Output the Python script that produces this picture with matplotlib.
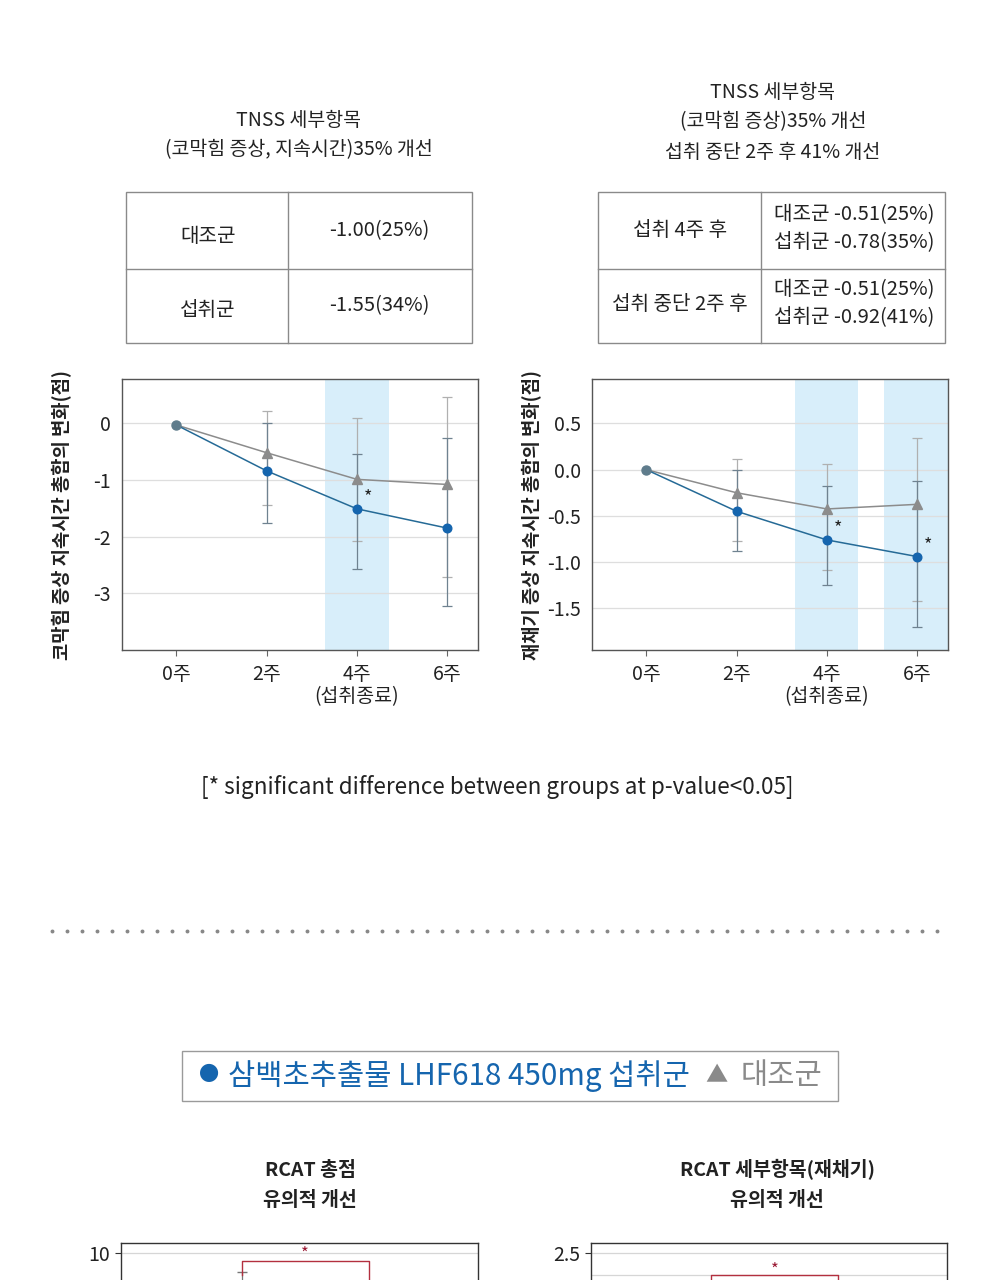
import numpy as np
import matplotlib.pyplot as plt

plt.rcParams['font.family'] = ['Noto Sans CJK KR', 'DejaVu Sans']
plt.rcParams['axes.unicode_minus'] = False

W, H = 1000, 1280

# ---- data ----
weeks = ['0주', '2주', '4주\n(섭취종료)', '6주']

# 코막힘 증상 지속시간 총합의 변화
nc_intake = [-0.03, -0.84, -1.51, -1.85]
nc_control = [-0.03, -0.52, -0.99, -1.08]
nc_intake_lo = [-0.03, -1.76, -2.57, -3.23]
nc_intake_hi = [-0.03, 0.00, -0.55, -0.26]
nc_control_lo = [-0.03, -1.45, -2.08, -2.71]
nc_control_hi = [-0.03, 0.22, 0.09, 0.47]
nc_sig = [False, False, True, False]

# 재채기 증상 지속시간 총합의 변화
sn_intake = [0.0, -0.45, -0.76, -0.94]
sn_control = [0.0, -0.25, -0.425, -0.375]
sn_intake_lo = [0.0, -0.885, -1.25, -1.70]
sn_intake_hi = [0.0, 0.00, -0.18, -0.12]
sn_control_lo = [0.0, -0.77, -1.09, -1.42]
sn_control_hi = [0.0, 0.115, 0.06, 0.345]
sn_sig = [False, False, True, True]

# RCAT (only top part visible)
rcat_groups = ['대조군', '섭취군']
rcat_total_mean = [6.5, 4.6]
rcat_total_err = [2.55, 2.2]
rcat_sneeze_mean = [1.3, 0.9]
rcat_sneeze_err = [0.45, 0.4]

BLUE = '#1565ae'
BLUE_LINE = '#256a96'
GRAY = '#8c8c8c'
BAND = '#d8eefa'
TXT = '#222222'

fig = plt.figure(figsize=(W / 100, H / 100), dpi=100)
fig.patch.set_facecolor('white')


def px_axes(l, t, r, b):
    return fig.add_axes([l / W, 1 - b / H, (r - l) / W, (b - t) / H])


def ftext(x, y, s, **kw):
    kw.setdefault('ha', 'center')
    kw.setdefault('va', 'center')
    kw.setdefault('color', TXT)
    fig.text(x / W, 1 - y / H, s, **kw)


# overlay for tables / separators
ov = fig.add_axes([0, 0, 1, 1])
ov.set_xlim(0, W)
ov.set_ylim(H, 0)
ov.axis('off')


def line_chart(ax, intake, control, i_lo, i_hi, c_lo, c_hi, sig, ylim, yticks, ylabels, bands, ylabel):
    x = np.arange(len(weeks))
    for b0, b1 in bands:
        ax.axvspan(b0, b1, color=BAND, lw=0, zorder=0)
    for t in yticks:
        ax.axhline(t, color='#dedede', lw=0.9, zorder=1)
    c_err = [np.array(control) - np.array(c_lo), np.array(c_hi) - np.array(control)]
    i_err = [np.array(intake) - np.array(i_lo), np.array(i_hi) - np.array(intake)]
    ax.errorbar(x[1:], np.array(control)[1:], yerr=[e[1:] for e in c_err], fmt='none',
                ecolor='#b0b0b0', elinewidth=0.9, capsize=3.6, capthick=0.9, zorder=2)
    ax.errorbar(x[1:], np.array(intake)[1:], yerr=[e[1:] for e in i_err], fmt='none',
                ecolor='#6f8290', elinewidth=0.9, capsize=3.6, capthick=0.9, zorder=2)
    ax.plot(x, control, color=GRAY, lw=1.1, marker='^', ms=6.5, mec=GRAY, mfc=GRAY,
            markevery=slice(1, None), zorder=3)
    ax.plot(x, intake, color=BLUE_LINE, lw=1.1, marker='o', ms=6.2, mec=BLUE, mfc=BLUE,
            markevery=slice(1, None), zorder=4)
    ax.plot(x[:1], intake[:1], marker='o', ms=6.5, color='#5f7c8c', zorder=5)
    for xi, yi, s in zip(x, intake, sig):
        if s:
            ax.annotate('*', (xi, yi), xytext=(5, 2), textcoords='offset points',
                        fontsize=13, color=TXT, ha='left', va='bottom', zorder=6)
    ax.set_xlim(-0.6, 3.34)
    ax.set_ylim(*ylim)
    ax.set_xticks(x)
    ax.set_xticklabels(weeks, fontsize=14, color=TXT, linespacing=1.05)
    ax.set_yticks(yticks)
    ax.set_yticklabels(ylabels, fontsize=14, color=TXT)
    ax.tick_params(axis='y', length=0, pad=8)
    ax.tick_params(axis='x', length=4, width=0.8, color='#666666', pad=6)
    for sp in ax.spines.values():
        sp.set_color('#555555')
        sp.set_linewidth(1.0)
    ax.set_ylabel(ylabel, fontsize=13.5, fontweight='bold', color=TXT)
    ax.yaxis.set_label_coords(-0.14, 0.5)


# ---- top titles ----
ftext(299, 120, 'TNSS 세부항목', fontsize=14)
ftext(299, 150, '(코막힘 증상, 지속시간)35% 개선', fontsize=14)
ftext(773, 92, 'TNSS 세부항목', fontsize=14)
ftext(773, 122, '(코막힘 증상)35% 개선', fontsize=14)
ftext(773, 152, '섭취 중단 2주 후 41% 개선', fontsize=14)

# ---- tables ----
tcol = '#8a8a8a'
ov.add_patch(plt.Rectangle((125.5, 192), 346.5, 151, fill=False, ec=tcol, lw=1))
ov.plot([288, 288], [192, 343], color=tcol, lw=1)
ov.plot([125.5, 472], [268.5, 268.5], color=tcol, lw=1)
ftext(208, 236, '대조군', fontsize=14.5)
ftext(379, 231, '-1.00(25%)', fontsize=14.5)
ftext(208, 310, '섭취군', fontsize=14.5)
ftext(379, 306, '-1.55(34%)', fontsize=14.5)

ov.add_patch(plt.Rectangle((597.5, 192), 347, 151, fill=False, ec=tcol, lw=1))
ov.plot([760.5, 760.5], [192, 343], color=tcol, lw=1)
ov.plot([597.5, 944.5], [268.5, 268.5], color=tcol, lw=1)
ftext(680, 230, '섭취 4주 후', fontsize=14.5)
ftext(680, 305, '섭취 중단 2주 후', fontsize=14.5)
ftext(774, 215, '대조군 -0.51(25%)', fontsize=14.5, ha='left')
ftext(774, 243, '섭취군 -0.78(35%)', fontsize=14.5, ha='left')
ftext(774, 290, '대조군 -0.51(25%)', fontsize=14.5, ha='left')
ftext(774, 318, '섭취군 -0.92(41%)', fontsize=14.5, ha='left')

# ---- line charts ----
ax1 = px_axes(122, 379, 478, 650)
line_chart(ax1, nc_intake, nc_control, nc_intake_lo, nc_intake_hi, nc_control_lo, nc_control_hi,
           nc_sig, (-4.0, 0.78), [0, -1, -2, -3], ['0', '-1', '-2', '-3'],
           [(1.65, 2.35)], '코막힘 증상 지속시간 총합의 변화(점)')

ax2 = px_axes(592, 379, 948, 650)
line_chart(ax2, sn_intake, sn_control, sn_intake_lo, sn_intake_hi, sn_control_lo, sn_control_hi,
           sn_sig, (-1.95, 0.98), [0.5, 0.0, -0.5, -1.0, -1.5], ['0.5', '0.0', '-0.5', '-1.0', '-1.5'],
           [(1.65, 2.345), (2.63, 3.4)], '재채기 증상 지속시간 총합의 변화(점)')

ftext(497, 787, '[* significant difference between groups at p-value<0.05]', fontsize=16.2)

# dotted separator
dots_x = np.arange(52, 945, 15)
ov.plot(dots_x, np.full(len(dots_x), 931), ls='none', marker='o', ms=1.8, color='#888888')

# ---- legend ----
ov.add_patch(plt.Rectangle((182, 1051), 656, 50, fill=False, ec='#9a9a9a', lw=1))
ftext(199, 1076, '●', fontsize=14.5, ha='left', color=BLUE)
ftext(228, 1076, '삼백초추출물 LHF618 450mg 섭취군', fontsize=21.3, ha='left', color=BLUE)
ftext(705, 1076, '▲', fontsize=16, ha='left', color='#8a8a8a')
ftext(741, 1076, '대조군', fontsize=21.3, ha='left', color='#8a8a8a')

# ---- RCAT titles ----
ftext(310, 1170, 'RCAT 총점', fontsize=14, fontweight='bold')
ftext(310, 1200, '유의적 개선', fontsize=14, fontweight='bold')
ftext(777, 1170, 'RCAT 세부항목(재채기)', fontsize=14, fontweight='bold')
ftext(777, 1200, '유의적 개선', fontsize=14, fontweight='bold')


def rcat_chart(ax, means, errs, ylim, yticks, grid, bracket_y, star_y):
    x = np.arange(len(rcat_groups))
    for t in grid:
        ax.axhline(t, color='#d6d6d6', lw=0.9, zorder=0)
    ax.bar(x, means, width=0.55, color=['#b5b5b5', '#2a6fb5'], zorder=1)
    ax.errorbar(x, means, yerr=[np.zeros(len(errs)), errs], fmt='none', ecolor='#777777',
                elinewidth=0.9, capsize=3.6, zorder=2)
    drop = 0.05 * (ylim[1] - ylim[0])
    ax.plot([x[0], x[0], x[1], x[1]], [bracket_y - drop, bracket_y, bracket_y, ylim[0]],
            color='#b3303f', lw=1.0, zorder=3)
    ax.text((x[0] + x[1]) / 2, star_y, '*', color='#9b1b35', fontsize=12, ha='center', va='center')
    ax.set_xlim(-0.95, 1.86)
    ax.set_ylim(*ylim)
    ax.set_yticks(yticks)
    ax.set_yticklabels([f'{t:g}' for t in yticks], fontsize=14, color=TXT)
    ax.set_xticks([])
    ax.tick_params(axis='y', length=4, width=0.8, color='#333333', pad=4)
    for sp in ax.spines.values():
        sp.set_color('#333333')
        sp.set_linewidth(1.0)


ax3 = px_axes(121, 1243, 478, 1523)
rcat_chart(ax3, rcat_total_mean, rcat_total_err, (10.5 - 14, 10.5), [10], [10, 8], 9.6, 9.95)

ax4 = px_axes(591, 1243, 947, 1523)
rcat_chart(ax4, rcat_sneeze_mean, rcat_sneeze_err, (2.73 - 280 / 44, 2.73), [2.5], [2.5, 2.0], 2.0, 2.12)

fig.savefig('out.png', dpi=100)
